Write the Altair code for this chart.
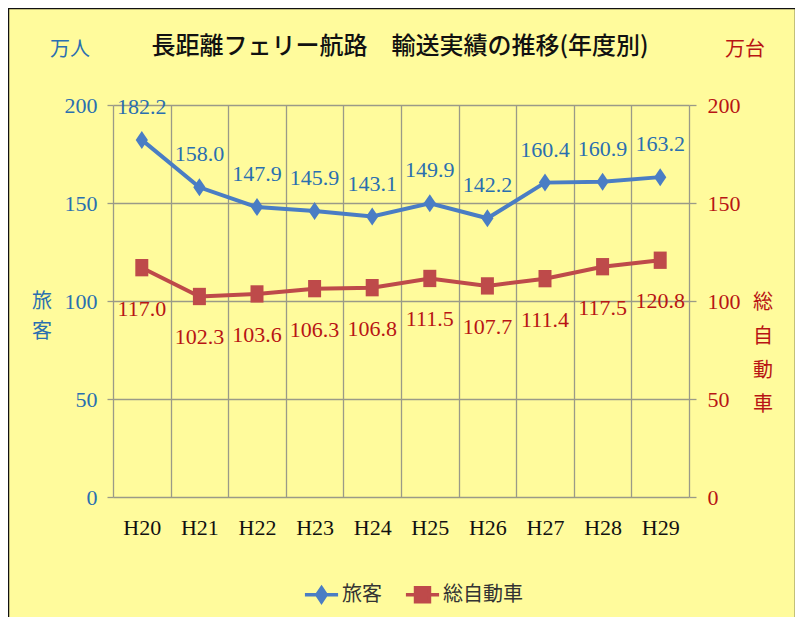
import altair as alt
import pandas as pd

years = ["H20", "H21", "H22", "H23", "H24", "H25", "H26", "H27", "H28", "H29"]
passengers = [182.2, 158.0, 147.9, 145.9, 143.1, 149.9, 142.2, 160.4, 160.9, 163.2]
vehicles = [117.0, 102.3, 103.6, 106.3, 106.8, 111.5, 107.7, 111.4, 117.5, 120.8]
series_names = ["旅客", "総自動車"]
y_ticks = [0, 50, 100, 150, 200]

BLUE_LINE = "#4A7DC4"
BLUE_TEXT = "#2A6FB0"
RED_LINE = "#BE4A4A"
RED_TEXT = "#B81414"
GRID = "#9A9A88"
BG = "#FFFB9C"
SERIF = "Liberation Serif"
CJK = "Noto Sans CJK JP"

df = pd.DataFrame({"year": years, "passengers": passengers, "vehicles": vehicles})

W, H = 576, 392

x_enc = alt.X(
    "year:N",
    sort=years,
    scale=alt.Scale(paddingInner=0, paddingOuter=0),
    axis=alt.Axis(
        title=None, labelAngle=0, ticks=False, domain=False, grid=True,
        tickBand="extent", gridColor=GRID, gridWidth=1.3,
        labelFont=SERIF, labelFontSize=22, labelColor="#111111",
        labelPadding=20,
    ),
)

DIAMOND = "M0,-1L0.68,0L0,1L-0.68,0Z"
RECT = "M-0.75,-1H0.75V1H-0.75Z"

base = alt.Chart(df)

y_left = alt.Y(
    "passengers:Q",
    scale=alt.Scale(domain=[0, 200]),
    axis=alt.Axis(
        orient="left", values=y_ticks, title=None, grid=True, gridColor=GRID,
        gridWidth=1.3, domain=False, tickSize=6, tickColor=GRID, tickWidth=1.3,
        labelPadding=10, labelFont=SERIF, labelFontSize=22, labelColor=BLUE_TEXT,
    ),
)
blue = alt.layer(
    base.mark_line(color=BLUE_LINE, strokeWidth=4).encode(x=x_enc, y=y_left),
    base.mark_point(filled=True, opacity=1, color=BLUE_LINE, shape=DIAMOND, size=324).encode(x=x_enc, y=y_left),
    base.mark_text(dy=-33, font=SERIF, fontSize=22, color=BLUE_TEXT).encode(
        x=x_enc, y=y_left, text=alt.Text("passengers:Q", format=".1f")
    ),
)

y_right = alt.Y(
    "vehicles:Q",
    scale=alt.Scale(domain=[0, 200]),
    axis=alt.Axis(
        orient="right", values=y_ticks, title=None, grid=False, domain=False,
        tickSize=7, tickColor=GRID, tickWidth=1.3, labelPadding=11,
        labelFont=SERIF, labelFontSize=22, labelColor=RED_TEXT,
    ),
)
red = alt.layer(
    base.mark_line(color=RED_LINE, strokeWidth=4).encode(x=x_enc, y=y_right),
    base.mark_point(filled=True, opacity=1, color=RED_LINE, shape=RECT, size=300).encode(x=x_enc, y=y_right),
    base.mark_text(dy=41, font=SERIF, fontSize=22, color=RED_TEXT).encode(
        x=x_enc, y=y_right, text=alt.Text("vehicles:Q", format=".1f")
    ),
)

legend_df = pd.DataFrame({"series": series_names})
LEG_DIAMOND = "M-1,0H1M0,-0.42L0.28,0L0,0.42L-0.28,0Z"
LEG_RECT = "M-1,0H1M-0.42,-0.42H0.42V0.42H-0.42Z"
leg_scale = alt.Scale(domain=series_names, range=[BLUE_LINE, RED_LINE])
legend_layer = alt.Chart(legend_df).mark_point(filled=True, opacity=0).encode(
    color=alt.Color(
        "series:N", scale=leg_scale,
        legend=alt.Legend(
            title=None, orient="none", direction="horizontal",
            legendX=190, legendY=471, symbolSize=1100, symbolStrokeWidth=3.5,
            symbolOpacity=1, labelFont=CJK, labelFontSize=20, labelColor="#333333",
            labelOffset=2, columnPadding=16,
        ),
    ),
    stroke=alt.Stroke("series:N", scale=leg_scale, legend=None),
    shape=alt.Shape("series:N", scale=alt.Scale(domain=series_names, range=[LEG_DIAMOND, LEG_RECT]), legend=None),
)

def label(text, x, y, color, size, font=CJK, weight="normal", line_height=None):
    kw = dict(text=text, font=font, fontSize=size, color=color, fontWeight=weight,
              align="center", baseline="middle")
    if line_height is not None:
        kw.update(lineBreak="\n", lineHeight=line_height)
    return alt.Chart(pd.DataFrame({"a": [0]})).mark_text(**kw).encode(
        x=alt.value(x), y=alt.value(y)
    )

annotations = alt.layer(
    label("長距離フェリー航路　輸送実績の推移(年度別)", 287, -58, "#111111", 24, weight=500),
    label("万人", -43, -55, BLUE_TEXT, 20),
    label("万台", 632, -55, RED_TEXT, 20),
    label("旅\n客", -71, 197, BLUE_TEXT, 20, line_height=30),
    label("総\n自\n動\n車", 650, 198, RED_TEXT, 20, line_height=34),
)

border = alt.Chart(pd.DataFrame({"a": [0]})).mark_rect(
    fill=None, stroke="#111111", strokeWidth=2.5
).encode(
    x=alt.value(-105), x2=alt.value(683), y=alt.value(-97), y2=alt.value(600)
)

chart = alt.layer(blue, red, legend_layer, annotations, border).resolve_scale(
    y="independent"
).properties(
    width=W, height=H,
    autosize=alt.AutoSizeParams(type="none"),
    padding={"left": 105, "top": 97, "right": 106, "bottom": 120},
    background=BG,
).configure_view(stroke=None).configure_axis(labelFont=SERIF)

chart.save("out.html", embed_options={"renderer": "svg", "actions": False})
